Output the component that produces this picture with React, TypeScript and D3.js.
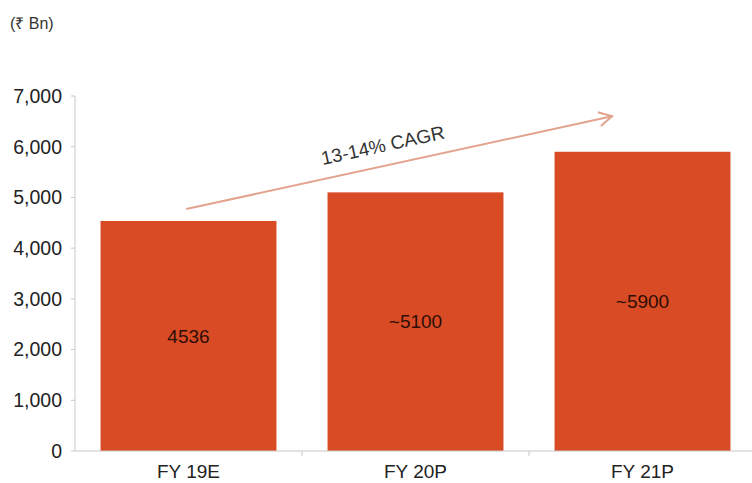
import React from "react";
import * as d3 from "d3";

const categories = ["FY 19E", "FY 20P", "FY 21P"];
const values = [4536, 5100, 5900];
const barLabels = ["4536", "~5100", "~5900"];
const yTicks = [0, 1000, 2000, 3000, 4000, 5000, 6000, 7000];
const unitLabel = "(₹ Bn)";
const cagrLabel = "13-14% CAGR";
// arrow runs from (category position, value) to (category position, value)
const arrowFrom = { cat: 0.49, val: 4770 };
const arrowTo = { cat: 2.366, val: 6600 };

const W = 752;
const H = 483;
const FONT = "'Liberation Sans', Arial, sans-serif";
const BAR = "#D84B24";

export default function App() {
  const left = 75;
  const right = 756;
  const y = d3.scaleLinear().domain([0, 7000]).range([451, 96]);
  const x = d3
    .scaleBand<string>()
    .domain(categories)
    .range([left, right])
    .paddingInner(0.225)
    .paddingOuter(0.1125);
  const xb = d3.scaleBand<string>().domain(categories).range([left, right]).padding(0);
  const xc = d3
    .scaleLinear()
    .domain([0, categories.length])
    .range([left, right]);
  const fmt = d3.format(",");

  const ax1 = xc(arrowFrom.cat);
  const ay1 = y(arrowFrom.val);
  const ax2 = xc(arrowTo.cat);
  const ay2 = y(arrowTo.val);
  const ang = (Math.atan2(ay2 - ay1, ax2 - ax1) * 180) / Math.PI;
  const mx = (ax1 + ax2) / 2;
  const my = (ay1 + ay2) / 2;

  return (
    <svg
      width={W}
      height={H}
      style={{ position: "absolute", left: 0, top: 0, background: "#fff" }}
      fontFamily={FONT}
    >
      <text x={10} y={29} fontSize={16} fill="#333">
        {unitLabel}
      </text>
      {/* y axis */}
      <line x1={left} x2={left} y1={y(7000)} y2={y(0)} stroke="#c8c8c8" strokeWidth={1} />
      {yTicks.map((t) => (
        <g key={t}>
          <line x1={left - 4} x2={left} y1={y(t)} y2={y(t)} stroke="#c8c8c8" />
          <text
            x={62}
            y={y(t)}
            dy="0.35em"
            textAnchor="end"
            fontSize={19.5}
            fill="#222"
          >
            {fmt(t)}
          </text>
        </g>
      ))}
      {/* bars */}
      {categories.map((c, i) => (
        <g key={c}>
          <rect
            x={x(c)}
            y={y(values[i])}
            width={x.bandwidth()}
            height={y(0) - y(values[i])}
            fill={BAR}
          />
          <text
            x={x(c)! + x.bandwidth() / 2}
            y={(y(values[i]) + y(0)) / 2}
            dy="0.35em"
            textAnchor="middle"
            fontSize={19}
            fill="#2e0e06"
          >
            {barLabels[i]}
          </text>
          <text
            x={x(c)! + x.bandwidth() / 2}
            y={478}
            textAnchor="middle"
            fontSize={19}
            fill="#222"
          >
            {c}
          </text>
        </g>
      ))}
      {/* x axis */}
      <line x1={left} x2={W} y1={y(0)} y2={y(0)} stroke="#c8c8c8" />
      {categories.slice(1).map((c) => (
        <line
          key={c}
          x1={xb(c)}
          x2={xb(c)}
          y1={y(0)}
          y2={y(0) + 5}
          stroke="#c8c8c8"
        />
      ))}
      {/* CAGR arrow */}
      <line x1={ax1} y1={ay1} x2={ax2} y2={ay2} stroke="#E3A38F" strokeWidth={2} />
      <g transform={`translate(${ax2},${ay2}) rotate(${ang})`}>
        <path d="M-13,-7 L0,0 L-13,7" fill="none" stroke="#E3A38F" strokeWidth={2} />
      </g>
      <text
        transform={`translate(${mx - 15},${my - 11}) rotate(${ang})`}
        textAnchor="middle"
        fontSize={19}
        fill="#333"
      >
        {cagrLabel}
      </text>
    </svg>
  );
}
